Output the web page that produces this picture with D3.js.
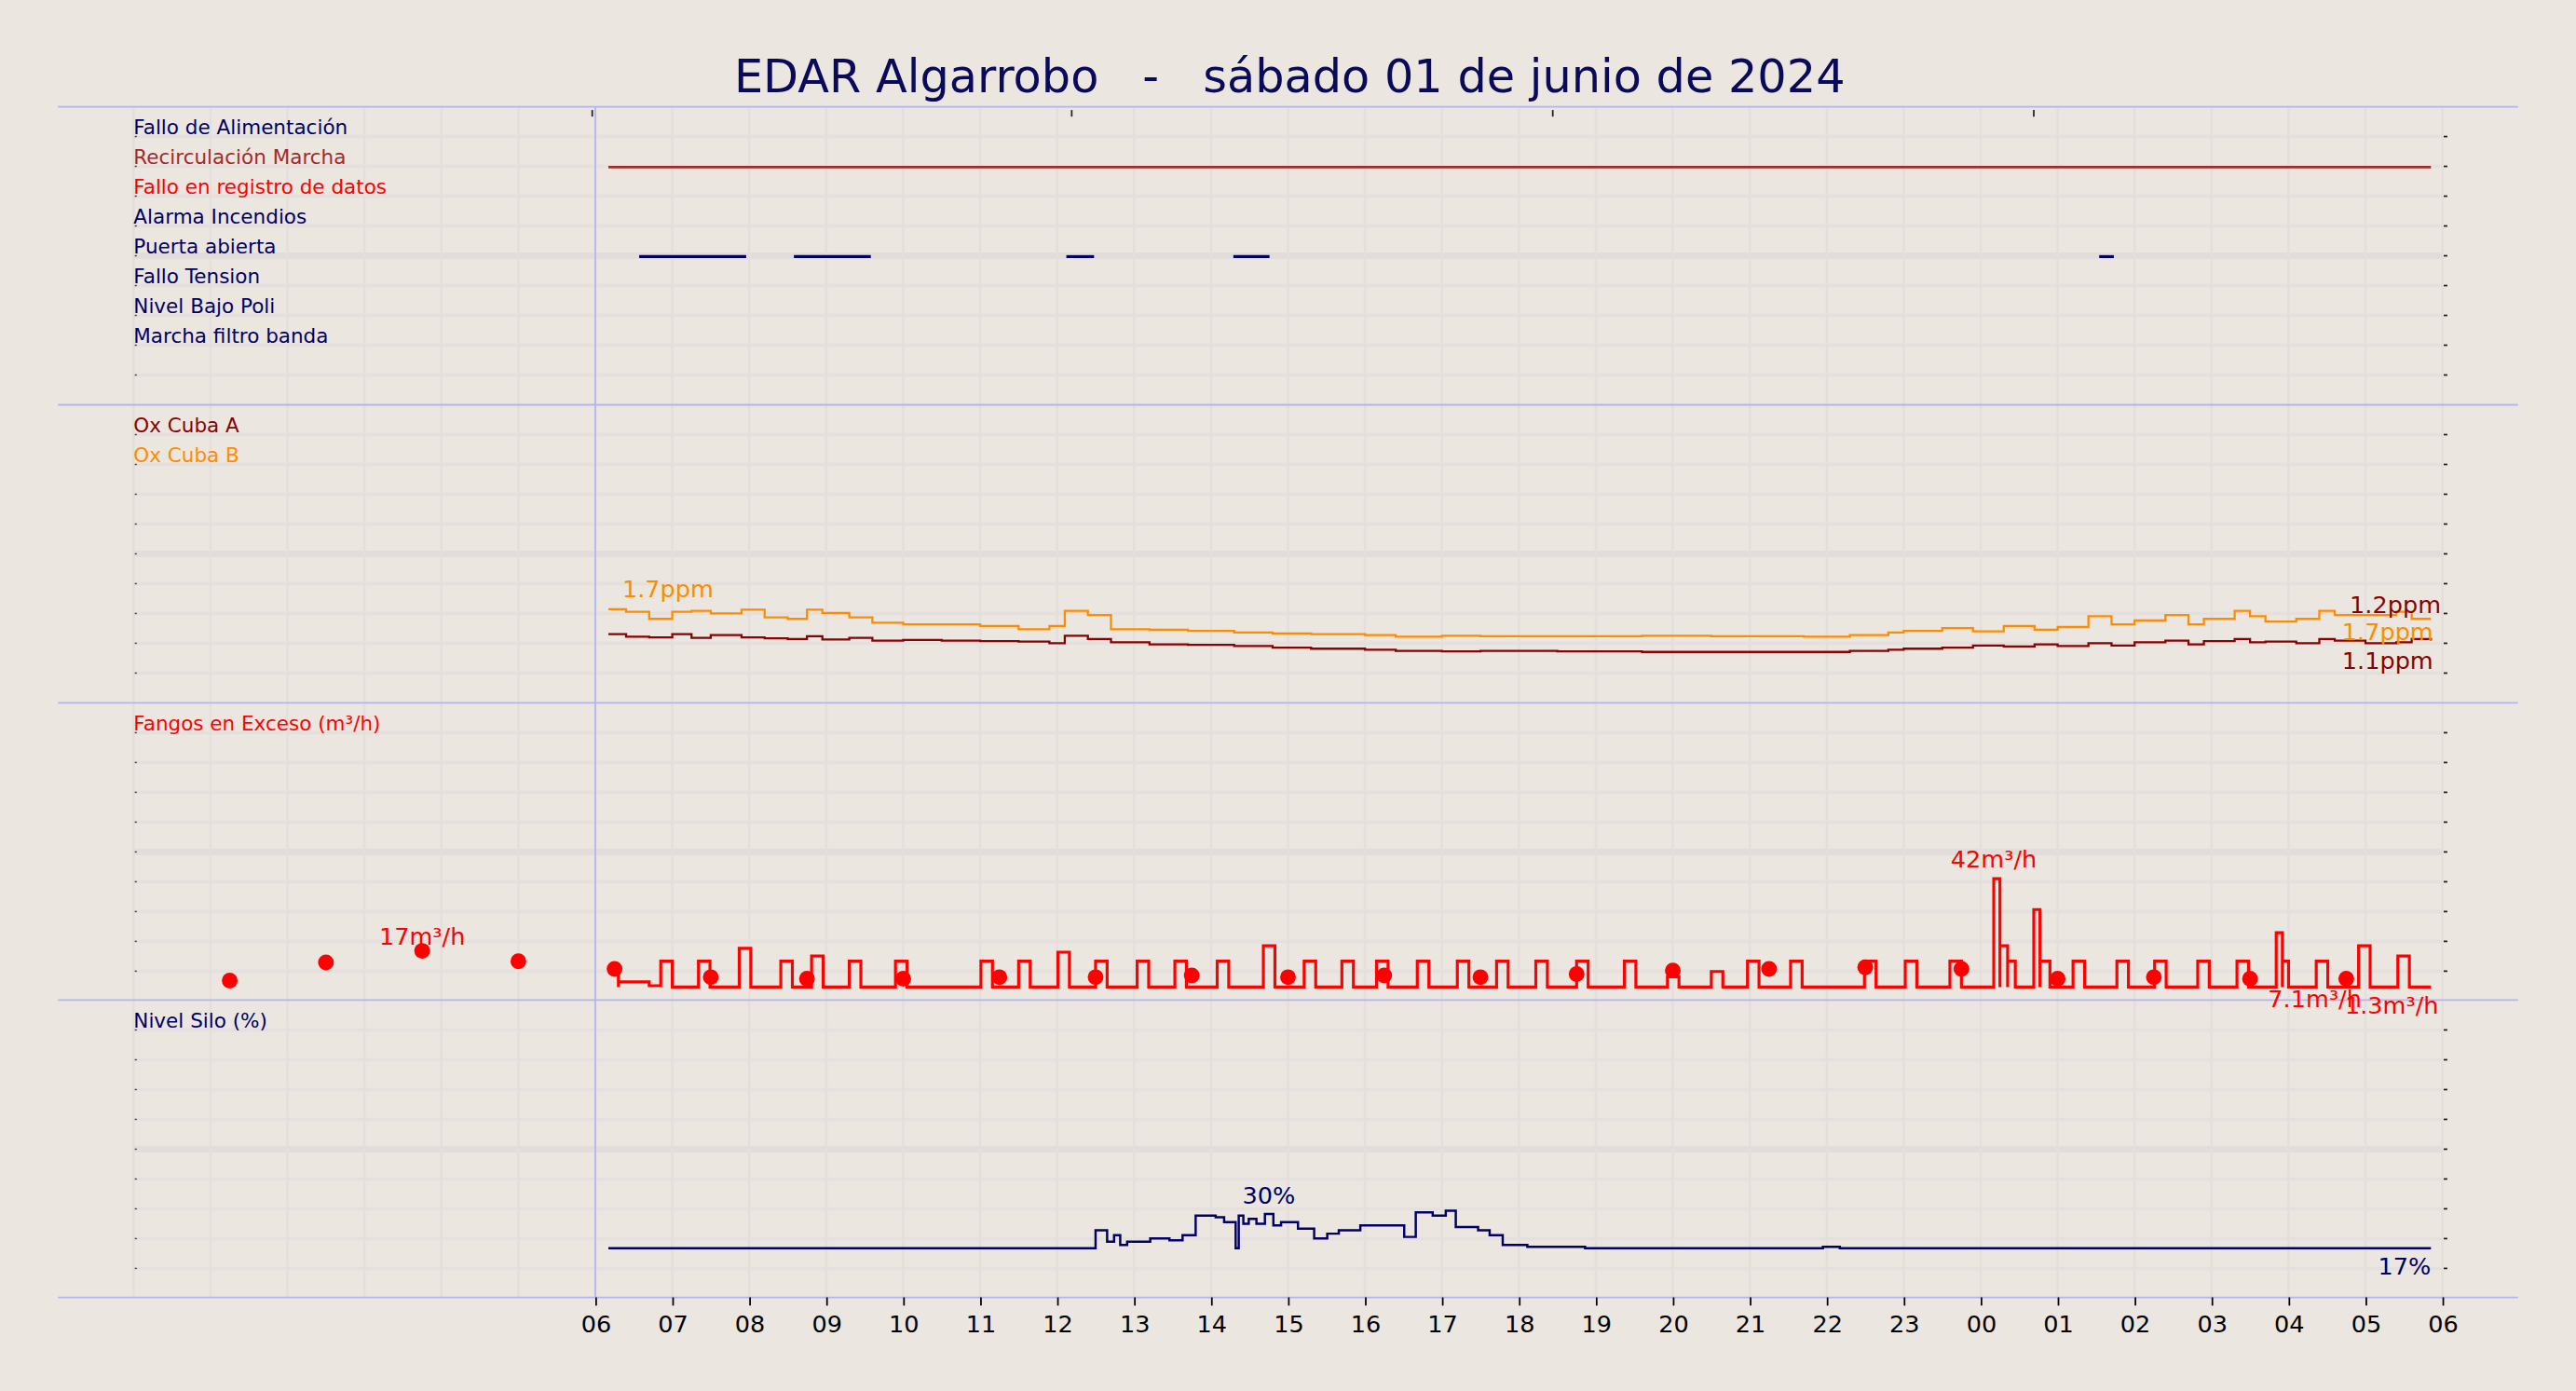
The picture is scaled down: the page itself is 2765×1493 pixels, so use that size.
<!DOCTYPE html>
<html><head><meta charset="utf-8">
<script src="https://cdn.jsdelivr.net/npm/d3@7"></script>
<style>body{margin:0;background:#ebe6e0}svg{display:block}text{font-family:"DejaVu Sans",sans-serif}</style>
</head><body><svg id="c"></svg>
<script>
// ---- data (hours since 00:00 sábado 01/06/2024) ----
const hourLabels = ["06","07","08","09","10","11","12","13","14","15","16","17","18","19","20","21","22","23","00","01","02","03","04","05","06"];
const hourTicks = [6,7,8,9,10,11,12,13,14,15,16,17,18,19,20,21,22,23,24,25,26,27,28,29,30];
const topTicks = [5.96,12.19,18.44,24.69];
const eventNames = ["Fallo de Alimentación","Recirculación Marcha","Fallo en registro de datos","Alarma Incendios","Puerta abierta","Fallo Tension","Nivel Bajo Poli","Marcha filtro banda"];
const eventColors = ["#000066","#a52a2a","#ff0000","#000066","#000066","#000066","#000066","#000066"];
const recircOn = [[6.17,29.85]];
const puertaOn = [[6.57,7.96],[8.58,9.58],[12.12,12.48],[14.29,14.76],[25.54,25.73]];
const oxHours = [6.17,6.4,6.7,7.0,7.25,7.5,7.9,8.2,8.5,8.75,8.95,9.3,9.6,10.0,10.5,11.0,11.5,11.9,12.1,12.4,12.7,13.2,13.7,14.3,14.8,15.3,16.0,16.4,17.0,17.5,18.5,19.6,20.5,21.7,22.3,22.8,23.0,23.5,23.9,24.3,24.7,25.0,25.4,25.7,26.0,26.4,26.7,26.9,27.3,27.5,27.7,28.1,28.4,28.6,29.0,29.4,29.6,29.85];
const oxB = [1.73,1.68,1.55,1.68,1.70,1.65,1.72,1.58,1.55,1.72,1.66,1.58,1.48,1.45,1.45,1.42,1.36,1.42,1.70,1.62,1.36,1.35,1.33,1.30,1.28,1.27,1.25,1.22,1.24,1.23,1.23,1.24,1.23,1.22,1.25,1.30,1.33,1.38,1.32,1.42,1.35,1.40,1.60,1.45,1.52,1.62,1.45,1.55,1.70,1.60,1.50,1.55,1.70,1.62,1.62,1.68,1.55,1.55];
const oxA = [1.27,1.22,1.21,1.27,1.20,1.25,1.21,1.19,1.18,1.23,1.17,1.20,1.15,1.16,1.15,1.14,1.13,1.10,1.24,1.18,1.12,1.08,1.07,1.05,1.02,1.00,0.98,0.96,0.95,0.96,0.95,0.94,0.94,0.94,0.96,0.98,1.00,1.02,1.06,1.04,1.08,1.05,1.10,1.06,1.12,1.15,1.08,1.14,1.18,1.12,1.13,1.10,1.18,1.15,1.10,1.12,1.18,1.15];
const fangStart = [6.17,6.30,6.70,6.85,7.34,7.87,8.41,8.81,9.30,9.90,11.01,11.50,12.01,12.50,13.04,13.53,14.08,14.68,15.21,15.70,16.15,16.68,17.20,17.71,18.22,18.75,19.37,19.93,20.50,20.97,21.53,22.49,23.02,23.60,24.17,24.25,24.35,24.69,24.77,25.20,25.77,26.26,26.82,27.33,27.84,27.92,28.36,28.91,29.42];
const fangEnd   = [6.30,6.70,6.85,7.00,7.49,8.02,8.56,8.96,9.45,10.05,11.16,11.65,12.16,12.65,13.19,13.68,14.23,14.83,15.36,15.85,16.30,16.83,17.35,17.86,18.37,18.90,19.52,20.08,20.65,21.12,21.68,22.64,23.17,23.75,24.25,24.35,24.45,24.77,24.90,25.35,25.92,26.41,26.97,27.48,27.92,28.00,28.51,29.06,29.57];
const fangVal   = [7,2,0.5,10,10,15,10,12,10,10,10,10,13.5,10,10,10,10,16,10,10,10,10,10,10,10,10,10,4,6,10,10,10,10,10,42,16,10,30,10,10,10,10,10,10,21,10,10,16,12];
const dotHours = [1.25,2.5,3.75,5,6.25,7.5,8.75,10,11.25,12.5,13.75,15,16.25,17.5,18.75,20,21.25,22.5,23.75,25,26.25,27.5,28.75];
const dotVals  = [2.5,9.5,14,10,7,3.8,3.2,3.2,3.8,3.8,4.5,3.8,4.5,3.8,5,6.4,7,7.6,7,3.2,3.8,3.2,3.2];
const siloHours = [6.17,12.50,12.65,12.74,12.82,12.91,13.21,13.46,13.63,13.80,14.06,14.17,14.32,14.36,14.42,14.49,14.59,14.70,14.81,14.91,15.13,15.34,15.51,15.66,15.94,16.51,16.66,16.88,17.05,17.18,17.47,17.62,17.79,18.11,18.86,21.95,22.17,29.85];
const siloVals  = [16.9,24.0,19.5,22.1,18.2,19.5,20.8,20.1,22.1,29.9,29.2,27.3,16.9,29.9,26.6,28.6,26.6,30.5,26.0,27.3,24.7,20.8,22.7,24.0,26.0,21.4,31.2,29.9,31.8,25.3,24.0,22.1,18.2,17.5,16.9,17.5,16.9,16.9];

// ---- layout ----
const W=1568,H=847;
const svg=d3.select("#c").attr("width",2765).attr("height",1493).attr("viewBox",`0 0 ${W} ${H}`);
svg.append("rect").attr("width",W).attr("height",H).attr("fill","#ebe6e0");
const x=d3.scaleLinear().domain([0,30]).range([81,1487]);
const panels=[65,246.5,428,609,790];
const rowH=(panels[1]-panels[0])/10;
const g=svg.append("g");
for(let p=0;p<4;p++){
  const top=panels[p];
  const rows=d3.range(1,10);
  g.selectAll(null).data(rows).join("line").attr("x1",81).attr("x2",1487)
    .attr("y1",k=>top+k*rowH).attr("y2",k=>top+k*rowH)
    .attr("stroke",k=>k===5?"#e2dddb":"#e5e0dd").attr("stroke-width",k=>k===5?4:2);
  g.selectAll(null).data(rows).join("line").attr("x1",1487).attr("x2",1490)
    .attr("y1",k=>top+k*rowH).attr("y2",k=>top+k*rowH).attr("stroke","#222").attr("stroke-width",1);
  g.selectAll(null).data(rows).join("line").attr("x1",81).attr("x2",83)
    .attr("y1",k=>top+k*rowH).attr("y2",k=>top+k*rowH).attr("stroke","#444").attr("stroke-width",0.8);
}
g.selectAll(null).data(d3.range(0,31)).join("line").attr("x1",d=>x(d)).attr("x2",d=>x(d))
  .attr("y1",65).attr("y2",790).attr("stroke","#e4dfdc").attr("stroke-width",1.5);
g.selectAll(null).data(panels).join("line").attr("x1",35).attr("x2",1533).attr("y1",d=>d).attr("y2",d=>d)
  .attr("stroke","#b4b4f0").attr("stroke-width",1);
g.append("line").attr("x1",x(6)).attr("x2",x(6)).attr("y1",65).attr("y2",790).attr("stroke","#b4b4f0").attr("stroke-width",1);
g.selectAll(null).data(topTicks).join("line").attr("x1",d=>x(d)).attr("x2",d=>x(d)).attr("y1",67).attr("y2",71).attr("stroke","#222");

svg.append("text").attr("x",785).attr("y",56).attr("text-anchor","middle").attr("font-size",28)
  .attr("fill","#0a0a5a").style("white-space","pre").text("EDAR Algarrobo   -   sábado 01 de junio de 2024");

const ax=svg.append("g").attr("transform","translate(0,790)")
  .call(d3.axisBottom(x).tickValues(hourTicks).tickFormat((d,i)=>hourLabels[i]).tickSize(5));
ax.select(".domain").remove();
ax.selectAll("text").attr("font-size",14.5).attr("fill","#000").attr("dy","0.9em").style("font-family","DejaVu Sans");

const labelFont=12.2;
eventNames.forEach((n,i)=>{
  svg.append("text").attr("x",81).attr("y",panels[0]+(i+1)*rowH-1.5).attr("font-size",labelFont).attr("fill",eventColors[i]).text(n);
});
const evY=i=>panels[0]+(i+1)*rowH+0.5;
svg.selectAll(null).data(recircOn).join("line").attr("x1",d=>x(d[0])).attr("x2",d=>x(d[1]))
  .attr("y1",evY(1)).attr("y2",evY(1)).attr("stroke","#a52a2a").attr("stroke-width",1.6);
svg.selectAll(null).data(puertaOn).join("line").attr("x1",d=>x(d[0])).attr("x2",d=>x(d[1]))
  .attr("y1",evY(4)).attr("y2",evY(4)).attr("stroke","#000066").attr("stroke-width",1.8);

const yOx=d3.scaleLinear().domain([0,1]).range([428,395]);
const lineOx=d3.line().x(d=>x(d[0])).y(d=>yOx(d[1])).curve(d3.curveStepAfter);
svg.append("path").attr("d",lineOx(oxHours.map((h,i)=>[h,oxB[i]]))).attr("fill","none").attr("stroke","#ff8c00").attr("stroke-width",1.3);
svg.append("path").attr("d",lineOx(oxHours.map((h,i)=>[h,oxA[i]]))).attr("fill","none").attr("stroke","#8b0000").attr("stroke-width",1.3);
svg.append("text").attr("x",81).attr("y",panels[1]+rowH-1.5).attr("font-size",labelFont).attr("fill","#8b0000").text("Ox Cuba A");
svg.append("text").attr("x",81).attr("y",panels[1]+2*rowH-1.5).attr("font-size",labelFont).attr("fill","#ff8c00").text("Ox Cuba B");
svg.append("text").attr("x",x(6.35)).attr("y",yOx(1.73)-7).attr("font-size",14.5).attr("fill","#ff8c00").text("1.7ppm");
svg.append("text").attr("x",x(29.98)).attr("y",yOx(1.62)-1).attr("text-anchor","end").attr("font-size",14.5).attr("fill","#8b0000").text("1.2ppm");
svg.append("text").attr("x",x(29.88)).attr("y",yOx(1.55)+13).attr("text-anchor","end").attr("font-size",14.5).attr("fill","#ff8c00").text("1.7ppm");
svg.append("text").attr("x",x(29.88)).attr("y",yOx(1.15)+17).attr("text-anchor","end").attr("font-size",14.5).attr("fill","#8b0000").text("1.1ppm");

const yF=d3.scaleLinear().domain([0,42]).range([601,535]);
const fPts=[];
fangStart.forEach((s,i)=>{fPts.push([s,fangVal[i]]);fPts.push([fangEnd[i],0]);});
fPts.push([29.85,0]);
svg.append("path").attr("d",d3.line().x(d=>x(d[0])).y(d=>yF(d[1])).curve(d3.curveStepAfter)(fPts))
  .attr("fill","none").attr("stroke","#ff0000").attr("stroke-width",1.8);
svg.selectAll(null).data(dotHours).join("circle").attr("cx",d=>x(d)).attr("cy",(d,i)=>yF(dotVals[i])).attr("r",4.8).attr("fill","#ff0000");
svg.append("text").attr("x",81).attr("y",panels[2]+rowH-1.5).attr("font-size",labelFont).attr("fill","#ff0000").text("Fangos en Exceso (m³/h)");
svg.append("text").attr("x",x(3.75)).attr("y",yF(14)-4).attr("text-anchor","middle").attr("font-size",14.5).attr("fill","#ff0000").text("17m³/h");
svg.append("text").attr("x",x(24.17)).attr("y",yF(42)-7).attr("text-anchor","middle").attr("font-size",14.5).attr("fill","#ff0000").text("42m³/h");
svg.append("text").attr("x",x(28.95)).attr("y",yF(0)+12).attr("text-anchor","end").attr("font-size",14.5).attr("fill","#ff0000").text("7.1m³/h");
svg.append("text").attr("x",x(29.95)).attr("y",yF(0)+16).attr("text-anchor","end").attr("font-size",14.5).attr("fill","#ff0000").text("1.3m³/h");

const yS=d3.scaleLinear().domain([0,30]).range([786,740]);
svg.append("path").attr("d",d3.line().x(d=>x(d[0])).y(d=>yS(d[1])).curve(d3.curveStepAfter)(siloHours.map((h,i)=>[h,siloVals[i]])))
  .attr("fill","none").attr("stroke","#000066").attr("stroke-width",1.4);
svg.append("text").attr("x",81).attr("y",panels[3]+rowH-1.5).attr("font-size",labelFont).attr("fill","#000066").text("Nivel Silo (%)");
svg.append("text").attr("x",x(14.75)).attr("y",yS(30.5)-6).attr("text-anchor","middle").attr("font-size",14.5).attr("fill","#000066").text("30%");
svg.append("text").attr("x",x(29.85)).attr("y",yS(16.9)+16).attr("text-anchor","end").attr("font-size",14.5).attr("fill","#000066").text("17%");
</script></body></html>
